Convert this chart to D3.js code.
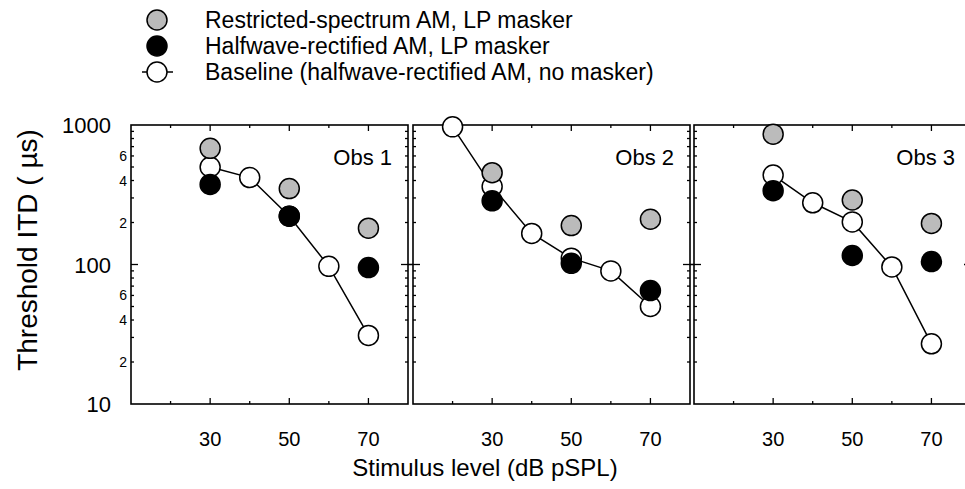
<!DOCTYPE html>
<html>
<head>
<meta charset="utf-8">
<script src="https://cdn.jsdelivr.net/npm/d3@7"></script>
<style>
  body { margin: 0; background: #fff; }
  text { font-family: "Liberation Sans", Arial, sans-serif; fill: #000; }
</style>
</head>
<body>
<svg id="chart" width="965" height="489"></svg>
<script>
// levels (dB pSPL) per observer
var observers = ["Obs 1", "Obs 2", "Obs 3"];

var levels = [30, 50, 70];
var restricted = [
  [680, 350, 182],
  [455, 190, 211],
  [860, 290, 197]
];
var halfwave = [
  [375, 222, 95],
  [286, 102, 65],
  [338, 116, 105]
];

var baseLevels = [
  [30, 40, 50, 60, 70],
  [20, 30, 40, 50, 60, 70],
  [30, 40, 50, 60, 70]
];
var baseline = [
  [500, 420, 222, 97, 31],
  [970, 362, 167, 111, 90, 50],
  [438, 277, 202, 96, 27]
];

var xTicks = [20, 30, 40, 50, 60, 70];
var xLabels = [30, 50, 70];
var yMinor = [20, 30, 40, 50, 60, 70, 80, 90, 200, 300, 400, 500, 600, 700, 800, 900];
var yMinorLabels = [20, 40, 60, 200, 400, 600];
var yMajor = [10, 100, 1000];

var legendItems = [
  { label: "Restricted-spectrum AM, LP masker", fill: "#bbbbbb", line: false },
  { label: "Halfwave-rectified AM, LP masker", fill: "#000", line: false },
  { label: "Baseline (halfwave-rectified AM, no masker)", fill: "#fff", line: true }
];

var svg = d3.select("#chart");
var panelLeft = [131, 413, 694];
var pw = 277, pTop = 125, pBottom = 404, r = 10;

var y = d3.scaleLog().domain([10, 1000]).range([pBottom, pTop]);

observers.forEach(function (name, i) {
  var x = d3.scaleLinear().domain([10, 80]).range([panelLeft[i], panelLeft[i] + pw]);
  var g = svg.append("g").attr("class", "panel");

  // ticks
  var tk = g.append("g").attr("stroke", "#000").attr("stroke-width", 1.3);
  xTicks.forEach(function (t) {
    var len = xLabels.indexOf(t) >= 0 ? 6 : 3;
    tk.append("line").attr("x1", x(t)).attr("x2", x(t)).attr("y1", pBottom).attr("y2", pBottom - len);
    tk.append("line").attr("x1", x(t)).attr("x2", x(t)).attr("y1", pTop).attr("y2", pTop + len);
  });
  [x.range()[0], x.range()[1]].forEach(function (xe, side) {
    var dir = side === 0 ? 1 : -1;
    yMinor.forEach(function (v) {
      tk.append("line").attr("x1", xe).attr("x2", xe + dir * 3).attr("y1", y(v)).attr("y2", y(v));
    });
    var out = (i === 0 && side === 0) ? 0 : 5;
    tk.append("line").attr("x1", xe - dir * out).attr("x2", xe + dir * 7).attr("y1", y(100)).attr("y2", y(100));
  });

  // frame
  g.append("rect")
    .attr("x", x.range()[0]).attr("y", pTop)
    .attr("width", pw).attr("height", pBottom - pTop)
    .attr("fill", "none").attr("stroke", "#000").attr("stroke-width", 1.6);

  // x tick labels
  g.selectAll("text.xl").data(xLabels).join("text")
    .attr("class", "xl")
    .attr("x", function (d) { return x(d); })
    .attr("y", 446)
    .attr("text-anchor", "middle")
    .style("font-size", "20px")
    .text(function (d) { return d; });

  // baseline line
  var pts = baseLevels[i].map(function (l, k) { return [l, baseline[i][k]]; });
  g.append("path")
    .datum(pts)
    .attr("d", d3.line().x(function (d) { return x(d[0]); }).y(function (d) { return y(d[1]); }))
    .attr("fill", "none").attr("stroke", "#000").attr("stroke-width", 1.5);

  g.selectAll("circle.base").data(pts).join("circle")
    .attr("class", "base")
    .attr("cx", function (d) { return x(d[0]); })
    .attr("cy", function (d) { return y(d[1]); })
    .attr("r", r).attr("fill", "#fff").attr("stroke", "#000").attr("stroke-width", 1.5);

  g.selectAll("circle.rs").data(restricted[i]).join("circle")
    .attr("class", "rs")
    .attr("cx", function (d, k) { return x(levels[k]); })
    .attr("cy", function (d) { return y(d); })
    .attr("r", r).attr("fill", "#bbbbbb").attr("stroke", "#000").attr("stroke-width", 1.5);

  g.selectAll("circle.hw").data(halfwave[i]).join("circle")
    .attr("class", "hw")
    .attr("cx", function (d, k) { return x(levels[k]); })
    .attr("cy", function (d) { return y(d); })
    .attr("r", r).attr("fill", "#000").attr("stroke", "#000").attr("stroke-width", 1.5);

  g.append("text")
    .attr("x", x.range()[1] - 16)
    .attr("y", 165)
    .attr("text-anchor", "end")
    .style("font-size", "22px")
    .text(name);
});

// y labels
svg.selectAll("text.ymaj").data(yMajor).join("text")
  .attr("class", "ymaj")
  .attr("x", 111).attr("y", function (d) { return y(d) + 8; })
  .attr("text-anchor", "end")
  .style("font-size", "22px")
  .text(function (d) { return d; });

svg.selectAll("text.ymin").data(yMinorLabels).join("text")
  .attr("class", "ymin")
  .attr("x", 127).attr("y", function (d) { return y(d) + 5; })
  .attr("text-anchor", "end")
  .style("font-size", "14px")
  .text(function (d) { return String(d).charAt(0); });

svg.append("text")
  .attr("transform", "translate(37,250) rotate(-90)")
  .attr("text-anchor", "middle")
  .style("font-size", "28px")
  .text("Threshold ITD ( \u00b5s)");

svg.append("text")
  .attr("x", 485).attr("y", 476)
  .attr("text-anchor", "middle")
  .style("font-size", "24px")
  .text("Stimulus level (dB pSPL)");

// legend
var lg = svg.append("g").selectAll("g").data(legendItems).join("g")
  .attr("transform", function (d, k) { return "translate(157," + (20 + k * 26) + ")"; });
lg.filter(function (d) { return d.line; }).append("line")
  .attr("x1", -15).attr("x2", 16).attr("stroke", "#000").attr("stroke-width", 1.5);
lg.append("circle").attr("r", r).attr("fill", function (d) { return d.fill; })
  .attr("stroke", "#000").attr("stroke-width", 1.5);
lg.append("text").attr("x", 48).attr("y", 8)
  .style("font-size", "23px")
  .text(function (d) { return d.label; });
</script>
</body>
</html>
